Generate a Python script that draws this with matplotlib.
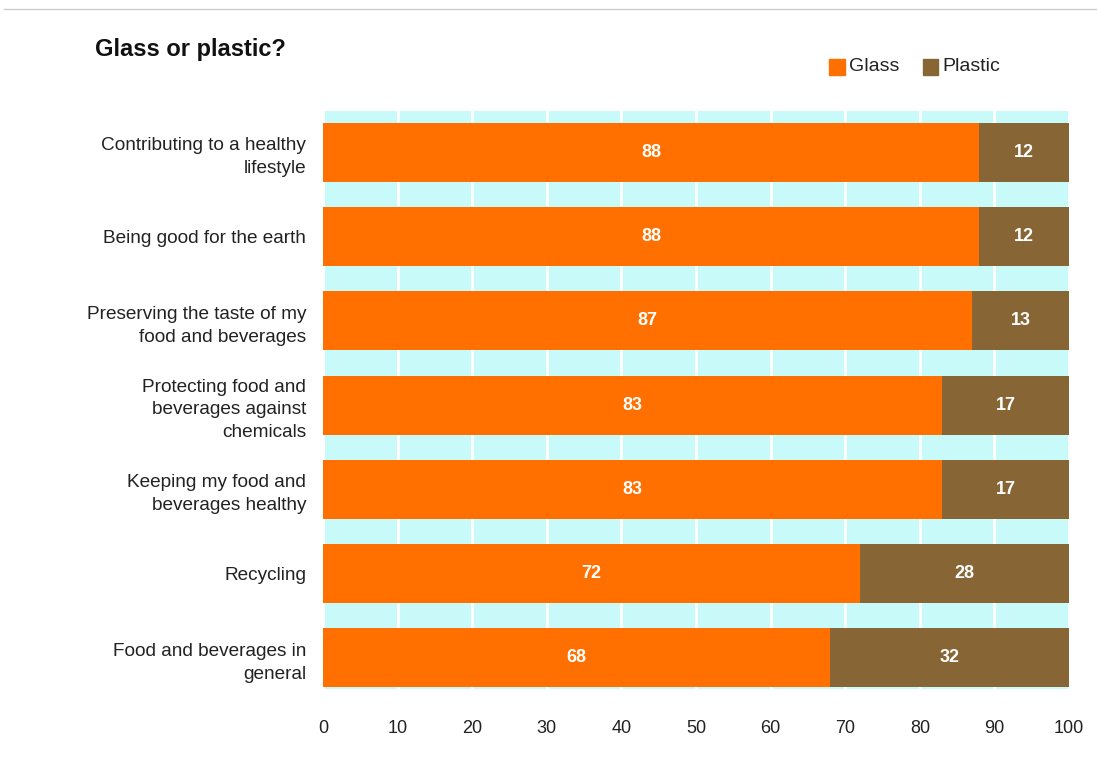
import numpy as np
import matplotlib.pyplot as plt

plt.rcParams['font.family'] = ['Liberation Sans', 'DejaVu Sans']

categories = [
    'Contributing to a healthy\nlifestyle',
    'Being good for the earth',
    'Preserving the taste of my\nfood and beverages',
    'Protecting food and\nbeverages against\nchemicals',
    'Keeping my food and\nbeverages healthy',
    'Recycling',
    'Food and beverages in\ngeneral',
]
glass = [88, 88, 87, 83, 83, 72, 68]
plastic = [12, 12, 13, 17, 17, 28, 32]

orange = '#FF7000'
brown = '#876535'
band = '#C8FAFA'

fig = plt.figure(figsize=(10.97, 7.78), dpi=100)
ax = fig.add_axes([0.2944, 0.1144, 0.6801, 0.7429])
ax.set_facecolor(band)

y = np.arange(len(categories))
h = 0.70
ax.barh(y, glass, height=h, color=orange, zorder=3)
ax.barh(y, plastic, left=glass, height=h, color=brown, zorder=3)

for yi, g, p in zip(y, glass, plastic):
    ax.text(g / 2, yi, str(g), ha='center', va='center', color='white',
            fontsize=13, fontweight='bold', zorder=4)
    ax.text(g + p / 2, yi, str(p), ha='center', va='center', color='white',
            fontsize=13, fontweight='bold', zorder=4)

ax.set_xlim(0, 100)
ax.set_ylim(6.37, -0.49)
ax.set_xticks(np.arange(0, 101, 10))
ax.set_yticks(y)
ax.set_yticklabels(categories, fontsize=13.7, color='#222222', linespacing=1.45)
ax.tick_params(axis='x', labelsize=13, colors='#222222', length=0, pad=22)
ax.tick_params(axis='y', length=0, pad=12)
ax.grid(axis='x', color='white', linewidth=2, zorder=1)
ax.set_axisbelow(True)
for s in ax.spines.values():
    s.set_visible(False)

fig.text(0.087, 0.937, 'Glass or plastic?', fontsize=17, fontweight='bold',
         ha='left', va='center', color='#111111')

# legend
fig.patches.append(plt.Rectangle((0.756, 0.904), 0.014, 0.02, color=orange,
                                 transform=fig.transFigure, figure=fig))
fig.text(0.774, 0.914, 'Glass', fontsize=14, va='center', color='#222222')
fig.patches.append(plt.Rectangle((0.841, 0.904), 0.014, 0.02, color=brown,
                                 transform=fig.transFigure, figure=fig))
fig.text(0.859, 0.914, 'Plastic', fontsize=14, va='center', color='#222222')

# frame line at top
fig.add_artist(plt.Line2D([0.004, 1], [0.988, 0.988], color='#cccccc',
                          linewidth=1, transform=fig.transFigure))

fig.savefig('out.png', dpi=100)
